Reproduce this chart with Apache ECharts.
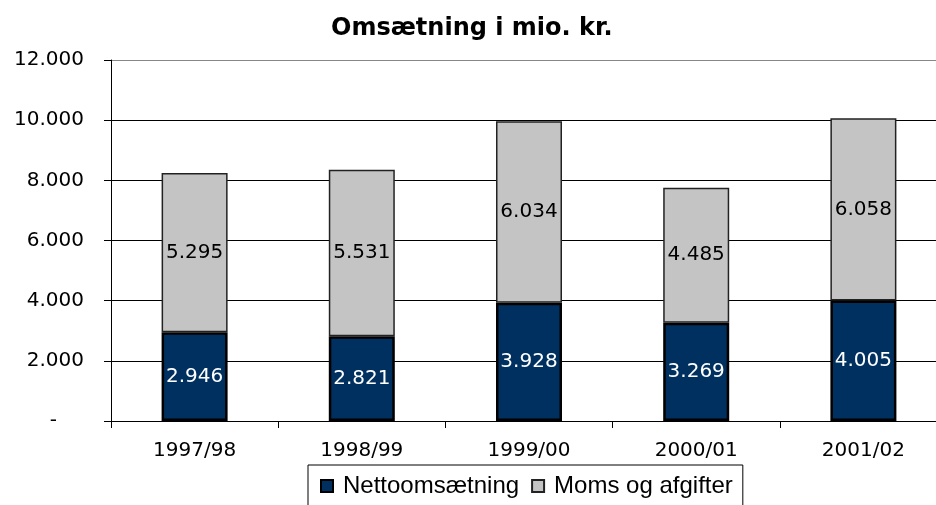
<!DOCTYPE html>
<html>
<head>
<meta charset="utf-8">
<script src="https://cdn.jsdelivr.net/npm/echarts@6/dist/echarts.min.js"></script>
<style>
html,body{margin:0;padding:0;background:#fff;overflow:hidden;}
#chart{width:960px;height:505px;}
</style>
</head>
<body>
<div id="chart"></div>
<script>
const categories = ['1997/98', '1998/99', '1999/00', '2000/01', '2001/02'];
const nettoValues = [2946, 2821, 3928, 3269, 4005];
const momsValues = [5295, 5531, 6034, 4485, 6058];
const seriesNames = ['Nettoomsætning', 'Moms og afgifter'];
const titleText = 'Omsætning i mio. kr.';
const yMin = 0, yMax = 12000, yStep = 2000;

function fmt(n) {
  return String(n).replace(/\B(?=(\d{3})+(?!\d))/g, '.');
}

const chart = echarts.init(document.getElementById('chart'), null, {renderer: 'canvas'});
const labelFont = 'DejaVu Sans';
chart.setOption({
  animation: false,
  backgroundColor: '#ffffff',
  title: {
    text: titleText,
    left: 326,
    top: 12,
    textStyle: {fontFamily: labelFont, fontWeight: 'bold', fontSize: 24, color: '#000'}
  },
  grid: {left: 111, top: 60, width: 836, height: 361},
  legend: {
    left: 308,
    top: 465,
    padding: [9, 10, 20, 12],
    itemWidth: 12,
    itemHeight: 12,
    itemGap: 12,
    borderColor: '#000',
    borderWidth: 1,
    backgroundColor: '#fff',
    icon: 'rect',
    textStyle: {fontFamily: 'Liberation Sans', fontSize: 24, color: '#000', padding: [0, 0, 0, 5]},
    data: seriesNames
  },
  xAxis: {
    type: 'category',
    data: categories,
    axisLine: {lineStyle: {color: '#000', width: 1}},
    axisTick: {show: true, length: 7, lineStyle: {color: '#000'}},
    axisLabel: {fontFamily: labelFont, fontSize: 20, color: '#000', margin: 20},
    splitLine: {show: false}
  },
  yAxis: {
    type: 'value',
    min: yMin,
    max: yMax,
    interval: yStep,
    axisLine: {show: true, lineStyle: {color: '#000', width: 1}},
    axisTick: {show: true, length: 7, lineStyle: {color: '#000'}},
    axisLabel: {
      fontFamily: labelFont, fontSize: 20, color: '#000', margin: 27,
      formatter: function (v) { return v === 0 ? '{d|-}' : fmt(v); },
      rich: {d: {fontFamily: labelFont, fontSize: 20, color: '#000', padding: [0, 27, 0, 0]}}
    },
    splitLine: {show: true, lineStyle: {color: ['#000', '#000', '#000', '#000', '#000', '#000', '#888'], width: 1}}
  },
  series: [
    {
      name: seriesNames[0],
      type: 'bar',
      stack: 'total',
      barWidth: 66,
      data: nettoValues,
      itemStyle: {color: '#00305f', borderColor: '#000', borderWidth: 2.5},
      label: {
        show: true, position: 'inside', color: '#fff',
        fontFamily: labelFont, fontSize: 20,
        formatter: p => fmt(p.value)
      }
    },
    {
      name: seriesNames[1],
      type: 'bar',
      stack: 'total',
      barWidth: 66,
      data: momsValues,
      itemStyle: {color: '#c4c4c4', borderColor: '#222', borderWidth: 1.5},
      label: {
        show: true, position: 'inside', color: '#000',
        fontFamily: labelFont, fontSize: 20,
        formatter: p => fmt(p.value)
      }
    }
  ]
});
</script>
</body>
</html>
